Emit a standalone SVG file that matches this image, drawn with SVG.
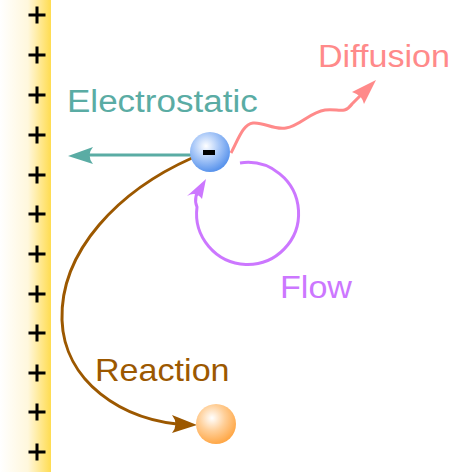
<svg xmlns="http://www.w3.org/2000/svg" width="456" height="472" viewBox="0 0 456 472">
<defs>
<linearGradient id="wall" x1="0" y1="0" x2="1" y2="0">
<stop offset="0" stop-color="#ffffff"/>
<stop offset="0.55" stop-color="#fff7dc"/>
<stop offset="1" stop-color="#ffdc50"/>
</linearGradient>
<radialGradient id="blue" cx="0.4" cy="0.35" r="0.65">
<stop offset="0" stop-color="#ffffff"/>
<stop offset="0.5" stop-color="#a9c8f8"/>
<stop offset="1" stop-color="#5a94ec"/>
</radialGradient>
<radialGradient id="orange" cx="0.4" cy="0.35" r="0.65">
<stop offset="0" stop-color="#ffffff"/>
<stop offset="0.5" stop-color="#ffcf98"/>
<stop offset="1" stop-color="#ffa848"/>
</radialGradient>
<path id="plus" d="M-8.5,0 H8.5 M0,-8.5 V8.5" stroke="#000" stroke-width="3" fill="none"/>
</defs>
<style>
text { font-family: "Liberation Sans", Arial, sans-serif; font-size: 31px; }
.conn { fill: none; stroke-width: 3; }
</style>
<rect width="456" height="472" fill="#fff"/>
<g id="wall-plate">
<rect x="0" y="0" width="51" height="472" fill="url(#wall)"/>
<use href="#plus" x="37" y="15"/>
<use href="#plus" x="37" y="55"/>
<use href="#plus" x="37" y="95"/>
<use href="#plus" x="37" y="135"/>
<use href="#plus" x="37" y="175"/>
<use href="#plus" x="37" y="214"/>
<use href="#plus" x="37" y="254"/>
<use href="#plus" x="37" y="294"/>
<use href="#plus" x="37" y="333"/>
<use href="#plus" x="37" y="373"/>
<use href="#plus" x="37" y="412"/>
<use href="#plus" x="37" y="452"/>
</g>
<g id="connectors">
<path class="conn" stroke="#5aaca4" d="M191,155 H78"/>
<path fill="#5aaca4" d="M68,156 L93,147 Q86,155 93,164 Z"/>
<path class="conn" stroke="#9c5800" d="M192,158 C120,190 60,250 62,320 C64,380 120,422 190,425"/>
<path fill="#9c5800" d="M197,425 L172,415 Q179,424 172,433 Z"/>
<path class="conn" stroke="#ff8a8a" d="M231,153 C238,140 243,124 253,123 C265,122 272,130 286,128 C300,126 310,112 325,110 C338,108 344,115 352,104 L368,88"/>
<path fill="#ff8a8a" d="M376,80 L352,92 Q362,95 364,104 Z"/>
<path class="conn" stroke="#cc77ff" d="M240,163 A51,51 0 1 1 197,207 C194,200 196,192 201,188"/>
<path fill="#cc77ff" d="M206,179 L187,196 Q196,191 202,199 Z"/>
</g>
<g id="electrostatic-label"><text transform="translate(67,112) scale(1.13,1)" fill="#5aaca4">Electrostatic</text></g>
<g id="diffusion-label"><text transform="translate(318,67) scale(1.1,1)" fill="#ff8a8a">Diffusion</text></g>
<g id="flow-label"><text transform="translate(280,298) scale(1.1,1)" fill="#cc77ff">Flow</text></g>
<g id="reaction-label"><text transform="translate(95,381) scale(1.1,1)" fill="#9c5800">Reaction</text></g>
<g id="anion">
<circle cx="210" cy="152" r="20" fill="url(#blue)"/>
<rect x="203" y="150" width="12" height="5" fill="#000"/>
</g>
<g id="product">
<circle cx="216" cy="424" r="20" fill="url(#orange)"/>
</g>
</svg>
